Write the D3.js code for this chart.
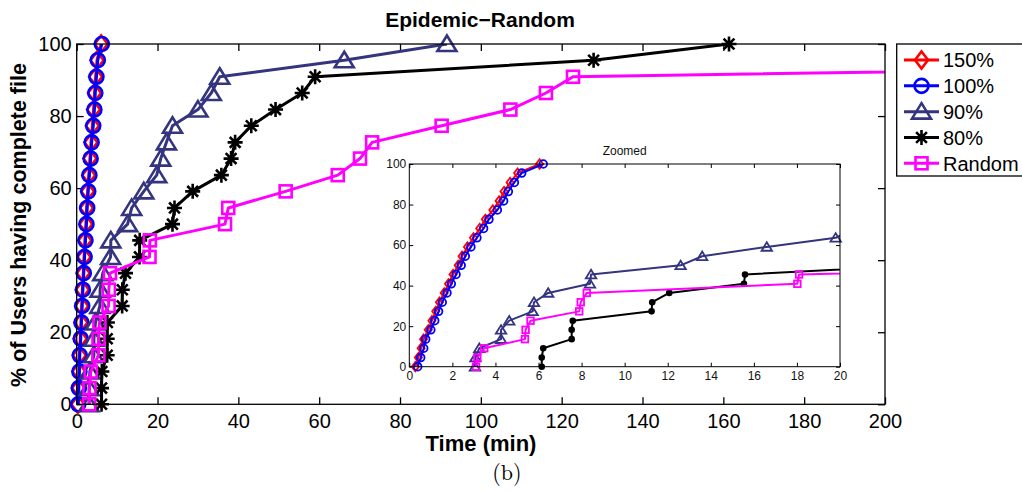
<!DOCTYPE html>
<html><head><meta charset="utf-8">
<script src="https://cdn.jsdelivr.net/npm/d3@7"></script>
<style>
body{margin:0;background:#fff}
svg{display:block}
text{font-family:"Liberation Sans",Arial,Helvetica,sans-serif}
</style>
</head><body>
<svg id="c" width="1022" height="491"></svg>
<script>
// ---------------- data ----------------
const seriesNames = ["150%", "100%", "90%", "80%", "Random"];
const seriesColors = ["#ff0000", "#0000ff", "#34347f", "#000000", "#ff00ff"];
const seriesMarkers = ["diamond", "circle", "triangle", "asterisk", "square"];
// % of users having the complete file (same levels for every series)
const pctLevels = [0, 4.5, 9.1, 13.6, 18.2, 22.7, 27.3, 31.8, 36.4, 40.9, 45.5, 50,
                   54.5, 59.1, 63.6, 68.2, 72.7, 77.3, 81.8, 86.4, 90.9, 95.5, 100];
// completion times (min)
const time150 = [0.28, 0.42, 0.55, 0.66, 0.88, 1.05, 1.23, 1.40, 1.62, 1.82, 2.03, 2.27,
                 2.45, 2.70, 2.98, 3.27, 3.53, 3.88, 4.17, 4.40, 4.68, 5.03, 6.05];
const time100 = [0.39, 0.53, 0.67, 0.76, 1.00, 1.18, 1.36, 1.53, 1.75, 1.95, 2.17, 2.41,
                 2.60, 2.86, 3.14, 3.45, 3.70, 4.09, 4.38, 4.60, 4.88, 5.22, 6.22];
const time90 = [3.05, 3.07, 3.25, 4.26, 4.26, 4.64, 5.73, 5.79, 6.45, 8.39, 8.44, 12.6,
                13.6, 16.6, 19.8, 20.8, 22.2, 23.7, 30.0, 33.3, 35.4, 66.2, 91.6];
const time80 = [6.15, 6.15, 6.22, 7.54, 7.54, 7.59, 11.25, 11.28, 12.07, 15.54, 15.59, 23.7,
                24.2, 28.7, 35.8, 38.2, 39.2, 43.2, 49.2, 55.8, 59.0, 127.9, 161.4];
const timeRandom = [3.10, 3.16, 3.48, 5.37, 5.40, 5.63, 7.89, 7.96, 8.24, 18.02, 18.10, 36.7,
                    37.5, 51.7, 64.6, 70.1, 73.1, 90.3, 107.3, 116.1, 122.8, 385, 520];
const seriesTimes = [time150, time100, time90, time80, timeRandom];

const mainXTicks = [0, 20, 40, 60, 80, 100, 120, 140, 160, 180, 200];
const mainYTicks = [0, 20, 40, 60, 80, 100];
const insetXTicks = [0, 2, 4, 6, 8, 10, 12, 14, 16, 18, 20];
const insetYTicks = [0, 20, 40, 60, 80, 100];

const titleText = "Epidemic\u2212Random";
const xLabel = "Time (min)";
const yLabel = "% of Users having complete file";
const insetTitle = "Zoomed";
const captionText = "(b)";

// ---------------- layout ----------------
const svg = d3.select("#c");
const M = {l: 76.7, r: 885, t: 44, b: 404.3};
const I = {l: 409.3, r: 840, t: 164, b: 366.7};

const series = seriesNames.map((n, k) => ({
  name: n, color: seriesColors[k], marker: seriesMarkers[k],
  pts: seriesTimes[k].map((t, i) => ({x: t, y: pctLevels[i]}))
}));

function markerShape(sel, type, s, color, sw, dot) {
  if (type === "circle") {
    sel.append("circle").attr("r", 7 * s).attr("fill", "none").attr("stroke", color).attr("stroke-width", sw);
  } else if (type === "diamond") {
    sel.append("path").attr("d", `M0,${-8.5*s}L${6.5*s},0L0,${8.5*s}L${-6.5*s},0Z`)
      .attr("fill", "none").attr("stroke", color).attr("stroke-width", sw).attr("stroke-linejoin", "miter");
  } else if (type === "triangle") {
    sel.append("path").attr("d", `M0,${-8.5*s}L${9.5*s},${7*s}L${-9.5*s},${7*s}Z`)
      .attr("fill", "none").attr("stroke", color).attr("stroke-width", sw).attr("stroke-linejoin", "miter");
  } else if (type === "square") {
    sel.append("rect").attr("x", -6 * s).attr("y", -6 * s).attr("width", 12 * s).attr("height", 12 * s)
      .attr("fill", "none").attr("stroke", color).attr("stroke-width", sw);
  } else if (type === "asterisk") {
    if (dot) {
      sel.append("circle").attr("r", 3.3).attr("fill", color);
    } else {
      const a = 7.5 * s, d = 5.4 * s;
      sel.append("path").attr("d", `M${-a},0H${a}M0,${-a}V${a}M${-d},${-d}L${d},${d}M${-d},${d}L${d},${-d}`)
        .attr("fill", "none").attr("stroke", color).attr("stroke-width", sw);
    }
  }
}

function drawPanel(box, xDomain, yDomain, xTicks, yTicks, opts) {
  const x = d3.scaleLinear().domain(xDomain).range([box.l, box.r]);
  const y = d3.scaleLinear().domain(yDomain).range([box.b, box.t]);
  const g = svg.append("g");
  const clipId = "clip" + opts.id;
  svg.append("clipPath").attr("id", clipId).append("rect")
    .attr("x", box.l).attr("y", box.t).attr("width", box.r - box.l).attr("height", box.b - box.t);
  g.append("rect").attr("x", box.l).attr("y", box.t).attr("width", box.r - box.l).attr("height", box.b - box.t)
    .attr("fill", "#fff");

  const tl = opts.tickLen;
  const ax = [
    g.append("g").attr("transform", `translate(0,${box.b})`)
      .call(d3.axisBottom(x).tickValues(xTicks).tickSizeInner(-tl).tickSizeOuter(0).tickPadding(opts.xPad)),
    g.append("g").attr("transform", `translate(${box.l},0)`)
      .call(d3.axisLeft(y).tickValues(yTicks).tickSizeInner(-tl).tickSizeOuter(0).tickPadding(opts.yPad)),
    g.append("g").attr("transform", `translate(0,${box.t})`)
      .call(d3.axisTop(x).tickValues(xTicks).tickSizeInner(-tl).tickSizeOuter(0).tickFormat("")),
    g.append("g").attr("transform", `translate(${box.r},0)`)
      .call(d3.axisRight(y).tickValues(yTicks).tickSizeInner(-tl).tickSizeOuter(0).tickFormat(""))
  ];
  ax.forEach(a => {
    a.attr("font-family", null).attr("font-size", opts.fontSize);
    a.selectAll("path.domain").remove();
    a.selectAll(".tick line").attr("stroke", "#000").attr("stroke-width", opts.axisW);
    a.selectAll(".tick text").attr("fill", opts.textColor);
  });

  series.forEach(s => {
    const line = d3.line().x(d => x(d.x)).y(d => y(d.y));
    g.append("path").attr("d", line(s.pts)).attr("fill", "none").attr("stroke", s.color)
      .attr("stroke-width", opts.lineW).attr("stroke-linejoin", "round").attr("clip-path", `url(#${clipId})`);
    s.pts.filter(p => p.x >= xDomain[0] && p.x <= xDomain[1]).forEach(p => {
      const m = g.append("g").attr("transform", `translate(${x(p.x)},${y(p.y)})`);
      markerShape(m, s.marker, opts.mScale, s.color, opts.mW, opts.dots);
    });
  });

  g.append("rect").attr("x", box.l).attr("y", box.t).attr("width", box.r - box.l).attr("height", box.b - box.t)
    .attr("fill", "none").attr("stroke", "#000").attr("stroke-width", opts.axisW);
  return {x, y, g};
}

// main axes
drawPanel(M, [0, 200], [0, 100], mainXTicks, mainYTicks,
  {id: "main", tickLen: 7, xPad: 9.5, yPad: 5, fontSize: 20, axisW: 1.3, lineW: 3, mScale: 1, mW: 2.6,
   dots: false, textColor: "#000"});

// inset
drawPanel(I, [0, 20], [0, 100], insetXTicks, insetYTicks,
  {id: "inset", tickLen: 4, xPad: 4.5, yPad: 3, fontSize: 12, axisW: 1, lineW: 2, mScale: 0.55, mW: 1.8,
   dots: true, textColor: "#111"});

// texts
svg.append("text").attr("x", 480).attr("y", 26.5).attr("text-anchor", "middle")
  .attr("font-size", 21).attr("font-weight", "bold").text(titleText);
svg.append("text").attr("x", 481).attr("y", 451).attr("text-anchor", "middle")
  .attr("font-size", 22).attr("font-weight", "bold").text(xLabel);
svg.append("text").attr("transform", "translate(26,225) rotate(-90)").attr("text-anchor", "middle")
  .attr("font-size", 21.5).attr("font-weight", "bold").text(yLabel);
svg.append("text").attr("x", (I.l + I.r) / 2).attr("y", 155).attr("text-anchor", "middle")
  .attr("font-size", 12).attr("fill", "#111").text(insetTitle);
svg.append("text").attr("x", 507).attr("y", 480).attr("text-anchor", "middle")
  .style("font-family", "'Latin Modern Roman','Liberation Serif','DejaVu Serif',serif")
  .attr("font-size", 22).text(captionText);

// legend
const L = {x: 896.7, y: 44, w: 140, h: 132};
const lg = svg.append("g");
lg.append("rect").attr("x", L.x).attr("y", L.y).attr("width", L.w).attr("height", L.h)
  .attr("fill", "#fff").attr("stroke", "#000").attr("stroke-width", 1.3);
const rowY = d3.scalePoint().domain(seriesNames).range([60, 163.3]);
series.forEach(s => {
  const yy = rowY(s.name);
  lg.append("line").attr("x1", 904).attr("x2", 939).attr("y1", yy).attr("y2", yy)
    .attr("stroke", s.color).attr("stroke-width", 3);
  const m = lg.append("g").attr("transform", `translate(921.5,${yy})`);
  markerShape(m, s.marker, 1, s.color, 2.6, false);
  lg.append("text").attr("x", 943).attr("y", yy).attr("dy", "0.36em").attr("font-size", 20).text(s.name);
});
</script>
</body></html>
